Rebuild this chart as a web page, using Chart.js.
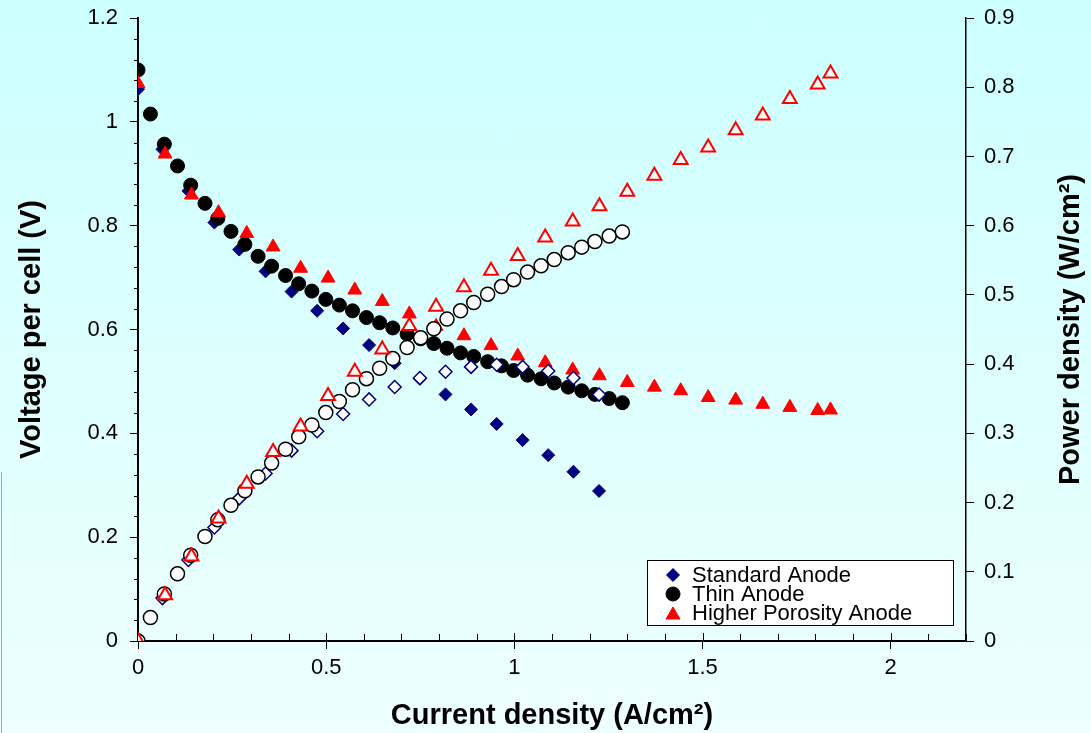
<!DOCTYPE html>
<html>
<head>
<meta charset="utf-8">
<script src="https://cdn.jsdelivr.net/npm/chart.js@4.4.0/dist/chart.umd.min.js"></script>
<style>
  html, body { margin: 0; padding: 0; }
  body {
    width: 1091px; height: 733px; overflow: hidden; position: relative;
    background: linear-gradient(to bottom, #ccffff 0%, #eefffe 100%);
  }
  #chart { position: absolute; left: 0; top: 0; }
  #edge { position: absolute; left: 1px; top: 472px; width: 1px; height: 261px; background: #a8a8a8; }
</style>
</head>
<body>
<div id="edge"></div>
<canvas id="chart" width="1091" height="733"></canvas>
<script>
// Standard Anode
const stdCurrent = [0, 0.065, 0.134, 0.203, 0.269, 0.339, 0.408, 0.476, 0.545, 0.614, 0.682, 0.749, 0.817, 0.885, 0.953, 1.022, 1.090, 1.157, 1.225];
const stdVoltage = [1.063, 0.947, 0.867, 0.806, 0.754, 0.712, 0.673, 0.636, 0.602, 0.570, 0.535, 0.505, 0.475, 0.446, 0.418, 0.387, 0.358, 0.326, 0.289];
const stdPower   = [0, 0.062, 0.117, 0.164, 0.206, 0.242, 0.275, 0.303, 0.328, 0.349, 0.367, 0.380, 0.389, 0.396, 0.399, 0.396, 0.390, 0.380, 0.356];

// Thin Anode
const thinCurrent = [0, 0.033, 0.070, 0.105, 0.140, 0.178, 0.212, 0.247, 0.284, 0.319, 0.355, 0.392, 0.427, 0.462, 0.499, 0.535, 0.570, 0.607, 0.642, 0.677,
  0.715, 0.751, 0.786, 0.821, 0.857, 0.892, 0.929, 0.966, 0.998, 1.035, 1.071, 1.106, 1.143, 1.179, 1.214, 1.252, 1.287];
const thinVoltage = [1.100, 1.015, 0.957, 0.915, 0.878, 0.843, 0.814, 0.789, 0.764, 0.741, 0.722, 0.704, 0.688, 0.674, 0.658, 0.647, 0.636, 0.623, 0.613, 0.603,
  0.591, 0.582, 0.573, 0.564, 0.555, 0.548, 0.538, 0.530, 0.521, 0.512, 0.505, 0.497, 0.489, 0.482, 0.475, 0.467, 0.459];
const thinPower   = [0, 0.034, 0.068, 0.097, 0.124, 0.151, 0.175, 0.196, 0.217, 0.237, 0.257, 0.277, 0.295, 0.312, 0.330, 0.346, 0.363, 0.379, 0.394, 0.408,
  0.424, 0.438, 0.451, 0.465, 0.477, 0.489, 0.501, 0.512, 0.522, 0.533, 0.542, 0.551, 0.561, 0.569, 0.577, 0.585, 0.591];

// Higher Porosity Anode
const hpCurrent = [0, 0.072, 0.142, 0.214, 0.289, 0.359, 0.432, 0.505, 0.576, 0.649, 0.721, 0.792, 0.866, 0.938, 1.009, 1.082, 1.155, 1.226, 1.300, 1.372,
  1.442, 1.515, 1.588, 1.660, 1.732, 1.806, 1.840];
const hpVoltage = [1.074, 0.938, 0.859, 0.825, 0.785, 0.759, 0.718, 0.699, 0.676, 0.654, 0.630, 0.606, 0.588, 0.569, 0.549, 0.536, 0.522, 0.511, 0.498, 0.489,
  0.482, 0.469, 0.464, 0.456, 0.450, 0.444, 0.445];
const hpPower   = [0, 0.066, 0.122, 0.177, 0.227, 0.273, 0.310, 0.354, 0.389, 0.421, 0.455, 0.483, 0.511, 0.535, 0.556, 0.583, 0.606, 0.628, 0.649, 0.672,
  0.695, 0.713, 0.738, 0.759, 0.783, 0.804, 0.820];

const legendNames = ['Standard Anode', 'Thin Anode', 'Higher Porosity Anode'];

const FONT = "'Liberation Sans', Arial, sans-serif";
const navy = '#000080';
const red = '#ff0000';

function pts(xs, ys) {
  return xs.map((x, i) => ({ x: x, y: ys[i] }));
}

// tick labels like Excel: 1 instead of 1.0
function plainLabel(value) {
  return String(Number(value.toFixed(2)));
}

// fixed plot box: 138..966 x 18..641
function fixWidth(w) {
  return s => { s.width = w; s.paddingTop = 0; s.paddingBottom = 0; };
}

// minor ticks, right axis title, legend box
const decorations = {
  id: 'decorations',
  afterDraw(chart) {
    const ctx = chart.ctx;
    const { x, y } = chart.scales;
    ctx.save();
    ctx.strokeStyle = '#000';
    ctx.lineWidth = 1;
    ctx.beginPath();
    for (let i = 1; i <= 22; i++) {
      const px = Math.round(x.getPixelForValue(i / 10)) + 0.5;
      const len = (i % 5 === 0) ? 8 : 7;
      ctx.moveTo(px, x.top);
      ctx.lineTo(px, x.top - len);
    }
    for (let i = 1; i < 30; i++) {
      if (i % 5 === 0) continue;
      const py = Math.round(y.getPixelForValue(i * 0.04)) + 0.5;
      ctx.moveTo(y.right, py);
      ctx.lineTo(y.right - 4, py);
    }
    ctx.stroke();

    // right axis title, reading bottom to top
    ctx.fillStyle = '#000';
    ctx.font = 'bold 29px ' + FONT;
    ctx.textAlign = 'center';
    ctx.textBaseline = 'middle';
    ctx.translate(1071, (chart.chartArea.top + chart.chartArea.bottom) / 2);
    ctx.rotate(-Math.PI / 2);
    ctx.fillText('Power density (W/cm²)', 0, 0);
    ctx.restore();

    // legend
    ctx.save();
    ctx.fillStyle = '#ffffff';
    ctx.fillRect(647.5, 560.5, 306, 65);
    ctx.strokeStyle = '#000';
    ctx.lineWidth = 1;
    ctx.strokeRect(647.5, 560.5, 306, 65);
    const styles = [
      { pointStyle: 'rectRot', radius: 6.5, color: navy },
      { pointStyle: 'circle', radius: 7, color: '#000' },
      { pointStyle: 'triangle', radius: 8, color: red }
    ];
    legendNames.forEach((name, i) => {
      const cy = 575 + i * 19;
      ctx.fillStyle = styles[i].color;
      ctx.strokeStyle = styles[i].color;
      ctx.lineWidth = 1;
      Chart.helpers.drawPoint(ctx, { pointStyle: styles[i].pointStyle, radius: styles[i].radius, rotation: 0, borderWidth: 1 },
        673, styles[i].pointStyle === 'triangle' ? cy + 2 : cy);
      ctx.fillStyle = '#000';
      ctx.font = '22px ' + FONT;
      ctx.textAlign = 'left';
      ctx.textBaseline = 'middle';
      ctx.fillText(name, 692, cy + 1);
    });
    ctx.restore();
  }
};

const tickFont = { family: FONT, size: 22 };
const titleFont = { family: FONT, size: 29, weight: 'bold' };

new Chart(document.getElementById('chart'), {
  type: 'scatter',
  data: {
    datasets: [
      { label: legendNames[0], data: pts(stdCurrent, stdVoltage), yAxisID: 'y', order: 5,
        pointStyle: 'rectRot', pointRadius: 6.5, backgroundColor: navy, borderColor: navy, borderWidth: 1 },
      { label: legendNames[1], data: pts(thinCurrent, thinVoltage), yAxisID: 'y', order: 4,
        pointStyle: 'circle', pointRadius: 7, backgroundColor: '#000', borderColor: '#000', borderWidth: 1 },
      { label: legendNames[2], data: pts(hpCurrent, hpVoltage), yAxisID: 'y', order: 3,
        pointStyle: 'triangle', pointRadius: 8, backgroundColor: red, borderColor: red, borderWidth: 1 },
      { label: legendNames[0] + ' power', data: pts(stdCurrent, stdPower), yAxisID: 'y1', order: 2,
        pointStyle: 'rectRot', pointRadius: 6.5, backgroundColor: '#fff', borderColor: navy, borderWidth: 1.5 },
      { label: legendNames[1] + ' power', data: pts(thinCurrent, thinPower), yAxisID: 'y1', order: 1,
        pointStyle: 'circle', pointRadius: 7, backgroundColor: '#fff', borderColor: '#000', borderWidth: 1.5 },
      { label: legendNames[2] + ' power', data: pts(hpCurrent, hpPower), yAxisID: 'y1', order: 0,
        pointStyle: 'triangle', pointRadius: 8, backgroundColor: '#fff', borderColor: red, borderWidth: 2 }
    ]
  },
  options: {
    responsive: false,
    animation: false,
    layout: { padding: { top: 18, left: 0, right: 0, bottom: 0 } },
    plugins: {
      legend: { display: false },
      tooltip: { enabled: false }
    },
    scales: {
      x: {
        type: 'linear', min: 0, max: 2.2,
        afterFit: s => { s.height = 92; s.paddingLeft = 0; s.paddingRight = 0; },
        border: { color: '#000', width: 2 },
        grid: { drawOnChartArea: false, drawTicks: true, tickLength: 8, tickColor: '#000', tickWidth: 1 },
        ticks: { stepSize: 0.5, includeBounds: false, color: '#000', padding: 6, font: tickFont, maxRotation: 0, callback: plainLabel },
        title: { display: true, text: 'Current density (A/cm²)', color: '#000', font: titleFont, padding: 0 }
      },
      y: {
        type: 'linear', position: 'left', min: 0, max: 1.2,
        afterFit: fixWidth(138),
        border: { color: '#000', width: 2 },
        grid: { drawOnChartArea: false, drawTicks: true, tickLength: 8, tickColor: '#000', tickWidth: 1 },
        ticks: { stepSize: 0.2, includeBounds: false, color: '#000', padding: 12, font: tickFont, callback: plainLabel },
        title: { display: true, text: 'Voltage per cell (V)', color: '#000', font: titleFont, padding: { top: 15, bottom: 0 } }
      },
      y1: {
        type: 'linear', position: 'right', min: 0, max: 0.9,
        afterFit: fixWidth(125),
        border: { color: '#000', width: 1.5 },
        grid: { drawOnChartArea: false, drawTicks: true, tickLength: 8, tickColor: '#000', tickWidth: 1 },
        ticks: { stepSize: 0.1, includeBounds: false, color: '#000', padding: 10, font: tickFont, callback: plainLabel },
        title: { display: false }
      }
    }
  },
  plugins: [decorations]
});
</script>
</body>
</html>
